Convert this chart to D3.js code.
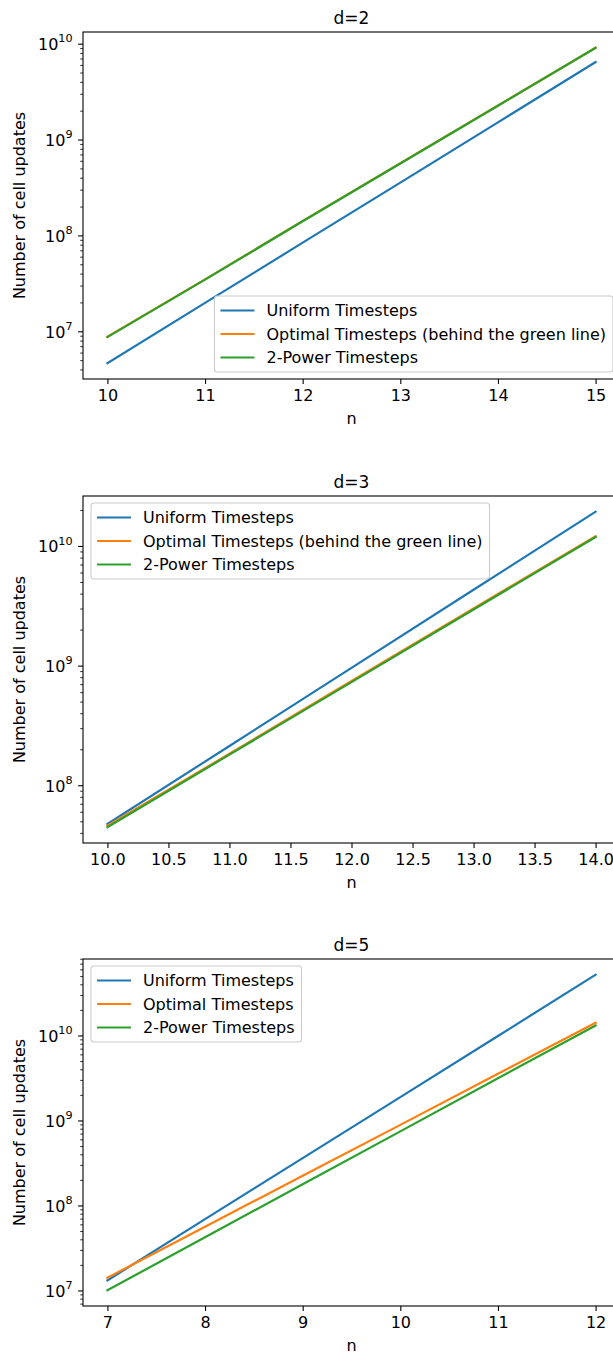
<!DOCTYPE html>
<html>
<head>
<meta charset="utf-8">
<script src="https://cdn.jsdelivr.net/npm/d3@7"></script>
<style>
  html, body { margin: 0; padding: 0; background: #fff; }
  svg { display: block; font-family: "DejaVu Sans", sans-serif; }
</style>
</head>
<body>
<svg id="chart" width="613" height="1355"></svg>
<script>
// ---- data ----
const nD2 = [10, 11, 12, 13, 14, 15];
const uniformD2 = [4.7e6, 2.0e7, 8.5e7, 3.6e8, 1.53e9, 6.5e9];
const optimalD2 = [8.9e6, 3.52e7, 1.43e8, 5.72e8, 2.29e9, 9.17e9];
const powerD2   = [8.8e6, 3.5e7, 1.42e8, 5.7e8, 2.28e9, 9.15e9];
const xTicksD2 = [10, 11, 12, 13, 14, 15];

const nD3 = [10, 11, 12, 13, 14];
const uniformD3 = [4.79e7, 2.15e8, 9.67e8, 4.35e9, 1.95e10];
const optimalD3 = [4.63e7, 1.85e8, 7.5e8, 3.03e9, 1.22e10];
const powerD3   = [4.5e7, 1.82e8, 7.34e8, 2.97e9, 1.2e10];
const xTicksD3 = [10, 10.5, 11, 11.5, 12, 12.5, 13, 13.5, 14];

const nD5 = [7, 8, 9, 10, 11, 12];
const uniformD5 = [1.33e7, 7.0e7, 3.66e8, 1.91e9, 1.0e10, 5.25e10];
const optimalD5 = [1.43e7, 5.7e7, 2.27e8, 9.0e8, 3.59e9, 1.43e10];
const powerD5   = [1.02e7, 4.28e7, 1.8e8, 7.55e8, 3.18e9, 1.33e10];
const xTicksD5 = [7, 8, 9, 10, 11, 12];

const titles = ["d=2", "d=3", "d=5"];
const legendLabelsD2 = ["Uniform Timesteps", "Optimal Timesteps (behind the green line)", "2-Power Timesteps"];
const legendLabelsD3 = ["Uniform Timesteps", "Optimal Timesteps (behind the green line)", "2-Power Timesteps"];
const legendLabelsD5 = ["Uniform Timesteps", "Optimal Timesteps", "2-Power Timesteps"];
const colors = ["#1f77b4", "#ff7f0e", "#2ca02c"];
const xLabel = "n";
const yLabel = "Number of cell updates";

// ---- layout ----
const panels = [
  { title: titles[0], n: nD2, series: [uniformD2, optimalD2, powerD2], xTicks: xTicksD2, fmt: d3.format("d"),
    labels: legendLabelsD2, top: 32, legendPos: "lowerright" },
  { title: titles[1], n: nD3, series: [uniformD3, optimalD3, powerD3], xTicks: xTicksD3, fmt: d3.format(".1f"),
    labels: legendLabelsD3, top: 496, legendPos: "upperleft" },
  { title: titles[2], n: nD5, series: [uniformD5, optimalD5, powerD5], xTicks: xTicksD5, fmt: d3.format("d"),
    labels: legendLabelsD5, top: 959, legendPos: "upperleft" }
];
const left = 83, right = 620, height = 347;
const fs = 16;
const svg = d3.select("#chart");
svg.append("rect").attr("width", 613).attr("height", 1355).attr("fill", "#fff");

panels.forEach(p => {
  const top = p.top, bottom = top + height;
  const xmin = d3.min(p.n), xmax = d3.max(p.n);
  const xm = (xmax - xmin) * 0.05;
  const x = d3.scaleLinear().domain([xmin - xm, xmax + xm]).range([left, right]);
  const all = p.series.flat();
  const lo = Math.log10(d3.min(all)), hi = Math.log10(d3.max(all));
  const ym = (hi - lo) * 0.05;
  const y = d3.scaleLog().domain([Math.pow(10, lo - ym), Math.pow(10, hi + ym)]).range([bottom, top]);

  const g = svg.append("g");

  // lines
  const line = d3.line().x((d, i) => x(p.n[i])).y(d => y(d));
  p.series.forEach((s, i) => {
    g.append("path").datum(s).attr("d", line)
      .attr("fill", "none").attr("stroke", colors[i]).attr("stroke-width", 2.2)
      .attr("stroke-linecap", "square").attr("stroke-linejoin", "round");
  });

  // spines
  g.append("rect").attr("x", left).attr("y", top).attr("width", right - left).attr("height", height)
    .attr("fill", "none").attr("stroke", "#000").attr("stroke-width", 1.1);

  // x axis
  const xa = g.append("g").attr("transform", `translate(0,${bottom})`)
    .call(d3.axisBottom(x).tickValues(p.xTicks).tickFormat(p.fmt).tickSize(4.9).tickPadding(5.5));
  xa.select(".domain").remove();
  xa.selectAll(".tick line").attr("stroke", "#000").attr("stroke-width", 1.1);
  xa.selectAll(".tick text").attr("font-size", fs).attr("font-family", "DejaVu Sans").attr("fill", "#000");

  // y axis: log ticks
  const [d0, d1] = y.domain();
  const majors = [], minors = [];
  for (let k = Math.floor(Math.log10(d0)); k <= Math.ceil(Math.log10(d1)); k++) {
    const v = Math.pow(10, k);
    if (v >= d0 && v <= d1) majors.push(k);
    for (let m = 2; m <= 9; m++) {
      const mv = m * v;
      if (mv >= d0 && mv <= d1) minors.push(mv);
    }
  }
  const ya = g.append("g");
  minors.forEach(v => {
    ya.append("line").attr("x1", left).attr("x2", left - 2.8)
      .attr("y1", y(v)).attr("y2", y(v)).attr("stroke", "#000").attr("stroke-width", 0.8);
  });
  majors.forEach(k => {
    const yy = y(Math.pow(10, k));
    ya.append("line").attr("x1", left).attr("x2", left - 4.9)
      .attr("y1", yy).attr("y2", yy).attr("stroke", "#000").attr("stroke-width", 1.1);
    const t = ya.append("text").attr("x", left - 4.9 - 5.5).attr("y", yy + 5.8)
      .attr("text-anchor", "end").attr("font-size", fs).attr("fill", "#000");
    t.append("tspan").text("10");
    t.append("tspan").attr("font-size", fs * 0.7).attr("dy", -7.5).text(String(k));
  });

  // title
  g.append("text").attr("x", (left + right) / 2).attr("y", top - 8.5)
    .attr("text-anchor", "middle").attr("font-size", 17).attr("fill", "#000").text(p.title);
  // x label
  g.append("text").attr("x", (left + right) / 2).attr("y", bottom + 45)
    .attr("text-anchor", "middle").attr("font-size", fs).attr("fill", "#000").text(xLabel);
  // y label
  g.append("text").attr("transform", `translate(25,${(top + bottom) / 2}) rotate(-90)`)
    .attr("text-anchor", "middle").attr("font-size", fs).attr("fill", "#000").text(yLabel);

  // legend
  const lg = g.append("g");
  const box = lg.append("rect");
  const rows = [14.5, 38, 61.5];
  let maxLen = 0;
  p.labels.forEach((lab, i) => {
    lg.append("line").attr("x1", 6).attr("x2", 40).attr("y1", rows[i]).attr("y2", rows[i])
      .attr("stroke", colors[i]).attr("stroke-width", 2.2);
    const t = lg.append("text").attr("x", 52).attr("y", rows[i] + 5.8)
      .attr("font-size", fs).attr("fill", "#000").text(lab);
    maxLen = Math.max(maxLen, t.node().getComputedTextLength());
  });
  const bw = 52 + maxLen + 7, bh = 76;
  box.attr("x", 0).attr("y", 0).attr("width", bw).attr("height", bh).attr("rx", 3)
    .attr("fill", "#fff").attr("fill-opacity", 0.8).attr("stroke", "#cccccc").attr("stroke-width", 1.1);
  let lx, ly;
  if (p.legendPos === "lowerright") { lx = right - 7 - bw; ly = bottom - 7 - bh; }
  else { lx = left + 8; ly = top + 7; }
  lg.attr("transform", `translate(${lx},${ly})`);
});
</script>
</body>
</html>
